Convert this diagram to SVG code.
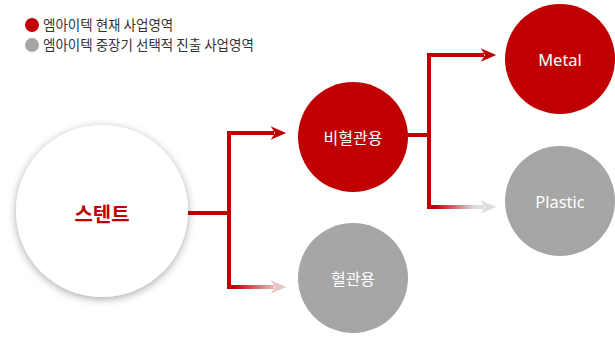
<svg xmlns="http://www.w3.org/2000/svg" width="615" height="338" viewBox="0 0 615 338">
<style>
.leg{font-family:"Noto Sans CJK KR","Noto Sans",sans-serif;font-size:13.5px;fill:#333}
.lbl{font-family:"Noto Sans CJK KR","Noto Sans",sans-serif;font-size:16px;fill:#fff;text-anchor:middle;dominant-baseline:central}
.en{font-family:"Noto Sans",sans-serif;font-size:16.5px;fill:#fff;text-anchor:middle;dominant-baseline:central}
.red{fill:#C00000}
.gray{fill:#A6A6A6}
.conn{fill:none;stroke-width:4;stroke-linejoin:miter}
</style>
<defs>
<filter id="sh" x="-20%" y="-20%" width="140%" height="140%">
<feDropShadow dx="0" dy="2" stdDeviation="4" flood-color="#000" flood-opacity="0.35"/>
</filter>
<marker id="aRed" markerUnits="userSpaceOnUse" markerWidth="20" markerHeight="20" viewBox="-4 -8 18 16" refX="0" refY="0" orient="auto">
<path d="M-3,-6 L11,0 L-3,6 L1,0 Z" fill="#C00000"/>
</marker>
<marker id="aPink" markerUnits="userSpaceOnUse" markerWidth="20" markerHeight="20" viewBox="-4 -8 18 16" refX="0" refY="0" orient="auto">
<path d="M-3,-6 L11,0 L-3,6 L1,0 Z" fill="#E9C6C6"/>
</marker>
<marker id="aGray" markerUnits="userSpaceOnUse" markerWidth="20" markerHeight="20" viewBox="-4 -8 18 16" refX="0" refY="0" orient="auto">
<path d="M-3,-6 L11,0 L-3,6 L1,0 Z" fill="#DDDDDD"/>
</marker>
<linearGradient id="gPink" gradientUnits="userSpaceOnUse" x1="229" y1="0" x2="276" y2="0">
<stop offset="0.1" stop-color="#C00000"/>
<stop offset="1" stop-color="#E9C6C6"/>
</linearGradient>
<linearGradient id="gGray" gradientUnits="userSpaceOnUse" x1="429" y1="0" x2="486" y2="0">
<stop offset="0.1" stop-color="#C00000"/>
<stop offset="0.8" stop-color="#DDDDDD"/>
</linearGradient>
</defs>
<g id="legend">
<circle cx="32" cy="25" r="7" class="red"/>
<text x="43" y="29.5" class="leg">엠아이텍 현재 사업영역</text>
<circle cx="32" cy="45" r="7" class="gray"/>
<text x="43" y="49.5" class="leg">엠아이텍 중장기 선택적 진출 사업영역</text>
</g>
<g id="connectors">
<path class="conn" d="M188,213 H229" stroke="#C00000"/>
<path class="conn" d="M229,215 V133 H274" stroke="#C00000" marker-end="url(#aRed)"/>
<path class="conn" d="M229,211 V287 H274" stroke="url(#gPink)" marker-end="url(#aPink)"/>
<path class="conn" d="M408,135 H429" stroke="#C00000"/>
<path class="conn" d="M429,137 V55 H484" stroke="#C00000" marker-end="url(#aRed)"/>
<path class="conn" d="M429,133 V207 H484" stroke="url(#gGray)" marker-end="url(#aGray)"/>
</g>
<g id="stent">
<circle cx="102" cy="211" r="86" fill="#fff" filter="url(#sh)"/>
<text x="102" y="213" font-family="'Noto Sans CJK KR',sans-serif" font-size="20" font-weight="bold" fill="#C00000" text-anchor="middle" dominant-baseline="central">스텐트</text>
</g>
<g id="nonvascular">
<circle cx="353" cy="137" r="55" class="red"/>
<text x="353" y="137" class="lbl">비혈관용</text>
</g>
<g id="vascular">
<circle cx="353" cy="278" r="55" class="gray"/>
<text x="353" y="278" class="lbl">혈관용</text>
</g>
<g id="metal">
<circle cx="560" cy="59" r="55" class="red"/>
<text x="560" y="59" class="en">Metal</text>
</g>
<g id="plastic">
<circle cx="560" cy="201" r="55" class="gray"/>
<text x="560" y="201" class="en">Plastic</text>
</g>
</svg>
